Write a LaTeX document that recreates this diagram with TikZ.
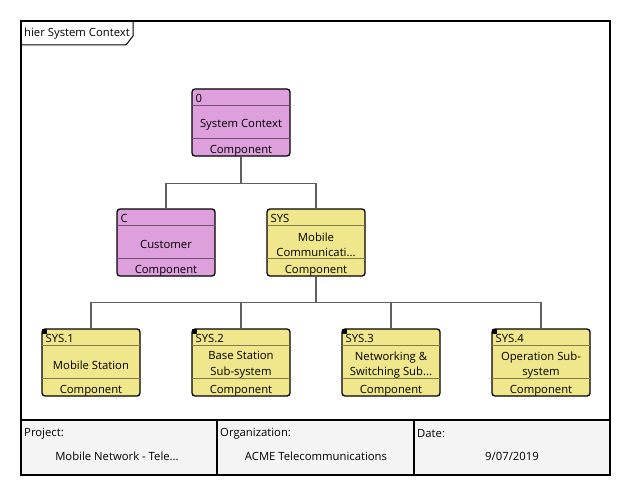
\documentclass[tikz,border=0pt]{standalone}
\usepackage{fontspec}
\setmainfont{Open Sans}
\usetikzlibrary{calc}
\definecolor{pinkfill}{RGB}{221,160,221}
\definecolor{pinksep}{RGB}{112,78,112}
\definecolor{yelfill}{RGB}{240,230,140}
\definecolor{yelsep}{RGB}{128,122,76}
\definecolor{conn}{RGB}{96,96,96}
\definecolor{tablebg}{RGB}{244,244,244}
\tikzset{
  box/.style={draw=black, line width=1.3pt, rounded corners=3pt, minimum width=98pt, minimum height=67pt, inner sep=0pt, font=\fontsize{11.3}{14}\selectfont},
  pinkbox/.style={box, fill=pinkfill},
  yelbox/.style={box, fill=yelfill},
  txt/.style={inner sep=0pt, font=\fontsize{11.3}{15.5}\selectfont, align=center},
  conline/.style={draw=conn, line width=1.2pt},
  frameline/.style={draw=black, line width=1.6pt},
}
\newcommand{\boxparts}[4]{%
  % #1 name, #2 sep colour, #3 id, #4 middle text
  \draw[#2, line width=1.2pt] ($(#1.north west)+(0.8,17)$) -- ($(#1.north east)+(-0.8,17)$);
  \draw[#2, line width=1.2pt] ($(#1.south west)+(0.8,-18)$) -- ($(#1.south east)+(-0.8,-18)$);
  \node[txt, anchor=west] (#1-id) at ($(#1.north west)+(4,10.5)$) {#3};
  \node[txt] (#1-mid) at ($(#1.north)+(0,36.5)$) {#4};
  \node[txt] (#1-st) at ($(#1.south)+(0,-6.3)$) {Component};
}
\begin{document}
\begin{tikzpicture}[x=1pt,y=-1pt]
\useasboundingbox (0,0) rectangle (632,495);
\fill[white] (0,0) rectangle (632,495);
% frame
\fill[tablebg] (21,420) rectangle (610,475);
\draw[frameline] (21,21) rectangle (610,475);
\draw[frameline] (21,420) -- (610,420);
\draw[frameline] (217,420) -- (217,475);
\draw[frameline] (414,420) -- (414,475);
% tab
\draw[black, line width=1pt] (21,45) -- (126,45) -- (133,36) -- (133,21);
\node[txt, anchor=west] (tab) at (24,34) {hier System Context};
% table text
\node[txt, anchor=west] (pl) at (24,434) {Project:};
\node[txt] (pv) at (117,456) {Mobile Network - Tele...};
\node[txt, anchor=west] (ol) at (220,434) {Organization:};
\node[txt] (ov) at (316,456) {ACME Telecommunications};
\node[txt, anchor=west] (dl) at (417,434) {Date:};
\node[txt] (dv) at (512,456) {9/07/2019};
% boxes
\node[pinkbox] (n0) at (241,122.5) {};
\node[pinkbox] (nC) at (166,242.5) {};
\node[yelbox] (nS) at (316,242.5) {};
\node[yelbox] (s1) at (91,362.5) {};
\node[yelbox] (s2) at (241,362.5) {};
\node[yelbox] (s3) at (391,362.5) {};
\node[yelbox] (s4) at (541,362.5) {};
\boxparts{n0}{pinksep}{0}{System Context}
\boxparts{nC}{pinksep}{C}{Customer}
\boxparts{nS}{yelsep}{SYS}{Mobile\\Communicati...}
\boxparts{s1}{yelsep}{SYS.1}{Mobile Station}
\boxparts{s2}{yelsep}{SYS.2}{Base Station\\Sub-system}
\boxparts{s3}{yelsep}{SYS.3}{Networking \&\\Switching Sub...}
\boxparts{s4}{yelsep}{SYS.4}{Operation Sub-\\system}
\foreach \n in {s1,s2,s3,s4}{
  \fill[black] ($(\n.north west)+(0.3,0.3)$) rectangle ++(5,5);
}
% connectors
\draw[conline] (n0.south) -- ++(0,27) -| (nC.north);
\draw[conline] (n0.south) -- ++(0,27) -| (nS.north);
\draw[conline] (nS.south) -- ++(0,26) -| (s1.north);
\draw[conline] (nS.south) -- ++(0,26) -| (s2.north);
\draw[conline] (nS.south) -- ++(0,26) -| (s3.north);
\draw[conline] (nS.south) -- ++(0,26) -| (s4.north);
\end{tikzpicture}
\end{document}
